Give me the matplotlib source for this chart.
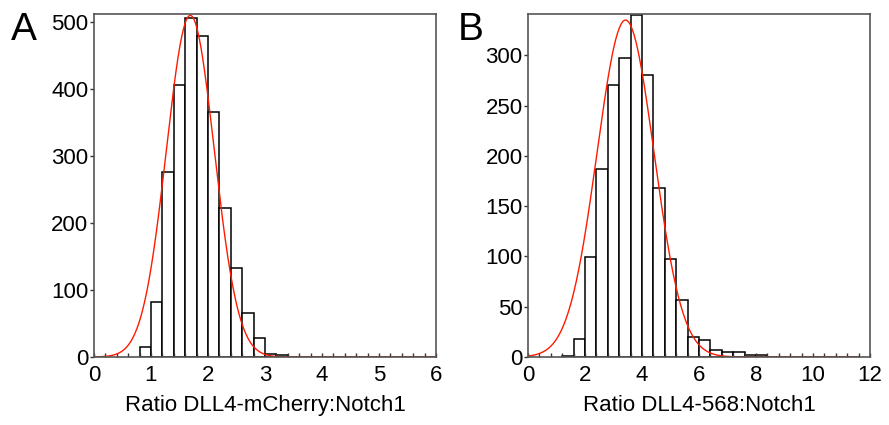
import matplotlib.pyplot as plt
import numpy as np

plt.rcParams['font.family'] = ['Liberation Sans', 'DejaVu Sans']

# Panel A: DLL4-mCherry:Notch1, bins of 0.2 starting at 0.8
a_edges_start = 0.8
a_bin_width = 0.2
a_counts = [15, 82, 276, 406, 506, 479, 366, 223, 133, 65, 29, 5, 3,
            0, 0, 0, 0, 0, 0, 0, 0, 0, 0, 0, 0, 0]
a_fit = dict(amp=510, mu=1.69, sigma=0.42)
a_fit_range = (0, 6)

# Panel B: DLL4-568:Notch1, bins of 0.4 starting at 1.2
b_edges_start = 1.2
b_bin_width = 0.4
b_counts = [1, 18, 99, 187, 270, 297, 340, 280, 168, 97, 57, 20, 17, 7, 5, 5, 2, 2,
            0, 0, 0, 0, 0, 0, 0, 0]
b_fit = dict(amp=335, mu=3.42, sigma=1.0)
b_fit_range = (0, 11.6)

panels = [
    dict(letter="A", xlabel="Ratio DLL4-mCherry:Notch1", start=a_edges_start, width=a_bin_width,
         counts=a_counts, fit=a_fit, fit_range=a_fit_range, xlim=(0, 6), ylim=(0, 512),
         xticks=np.arange(0, 7, 1), yticks=np.arange(0, 501, 100), minor=0.2, rect=[0.1057, 0.16, 0.3847, 0.807]),
    dict(letter="B", xlabel="Ratio DLL4-568:Notch1", start=b_edges_start, width=b_bin_width,
         counts=b_counts, fit=b_fit, fit_range=b_fit_range, xlim=(0, 12), ylim=(0, 341),
         xticks=np.arange(0, 13, 2), yticks=np.arange(0, 301, 50), minor=0.4, rect=[0.594, 0.16, 0.3847, 0.807]),
]

fig = plt.figure(figsize=(8.89, 4.25), dpi=100)

for p in panels:
    ax = fig.add_axes(p["rect"])
    counts = np.array(p["counts"])
    lefts = p["start"] + p["width"] * np.arange(len(counts))
    ax.bar(lefts, counts, width=p["width"], align="edge", facecolor="white",
           edgecolor="black", linewidth=1.1)
    x = np.linspace(p["fit_range"][0], p["fit_range"][1], 400)
    f = p["fit"]
    ax.plot(x, f["amp"] * np.exp(-0.5 * ((x - f["mu"]) / f["sigma"]) ** 2), color="#ff1a00", lw=1.0)

    ax.set_xlim(*p["xlim"])
    ax.set_ylim(*p["ylim"])
    ax.set_xticks(p["xticks"])
    ax.set_yticks(p["yticks"])
    ax.set_xticks(np.arange(0, p["xlim"][1] + 1e-9, p["minor"]), minor=True)
    ax.tick_params(axis="x", which="major", direction="in", length=3, width=1, color="#333333",
                   labelsize=16, pad=6)
    ax.tick_params(axis="x", which="minor", direction="in", length=3, width=1, color="#333333")
    ax.tick_params(axis="y", which="major", direction="out", length=3, width=1, color="#333333",
                   labelsize=16, pad=1)
    for s in ax.spines.values():
        s.set_color("#555555")
        s.set_linewidth(1.2)
    ax.set_xlabel(p["xlabel"], fontsize=16, labelpad=6)

fig.text(0.012, 0.905, "A", fontsize=28)
fig.text(0.515, 0.905, "B", fontsize=28)

fig.savefig("out.png", dpi=100)
